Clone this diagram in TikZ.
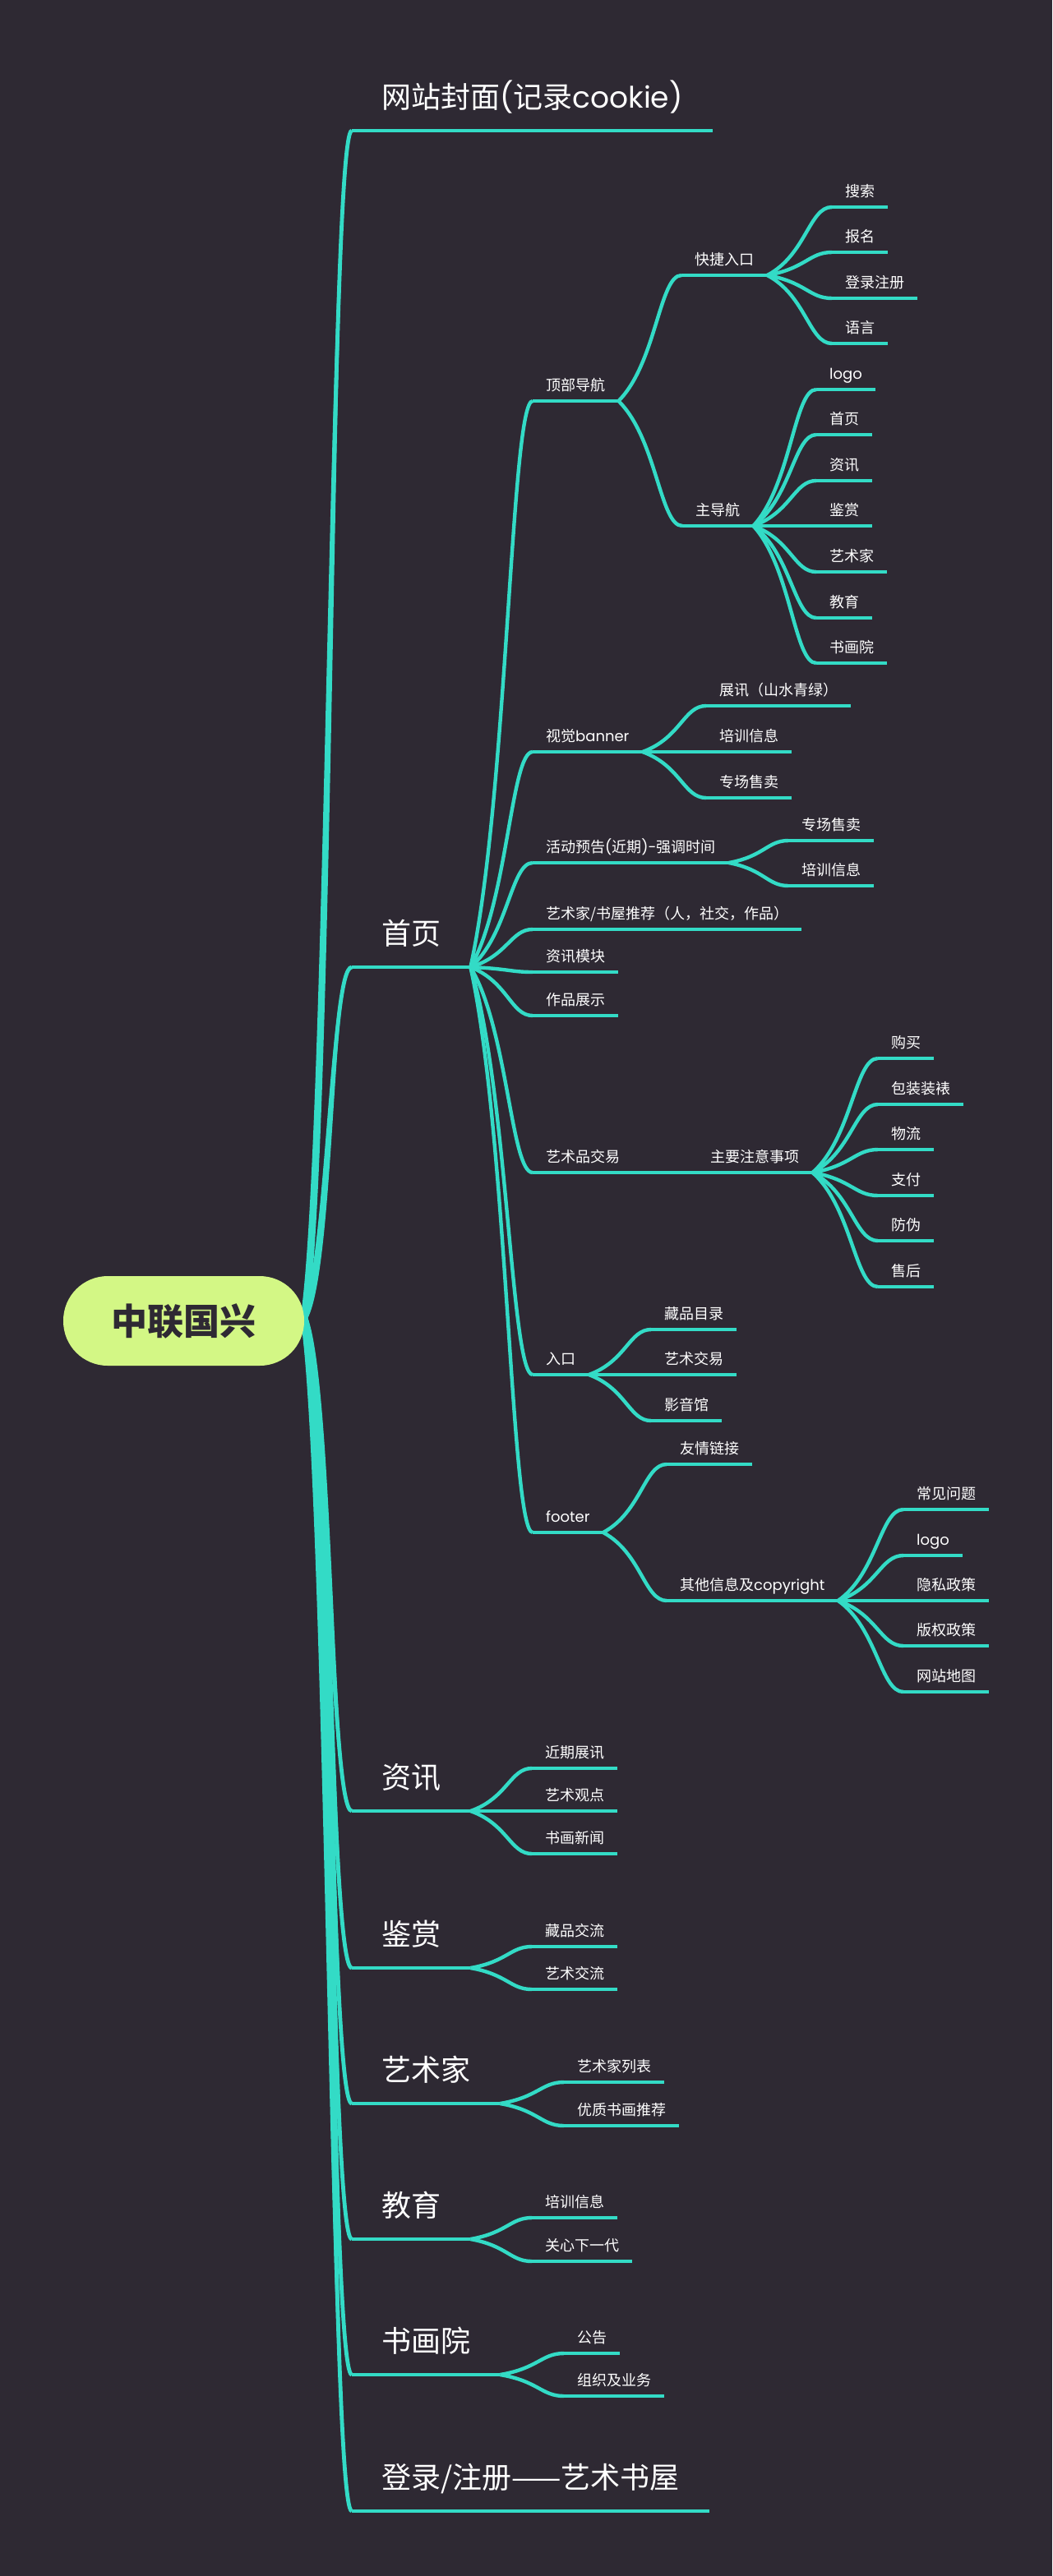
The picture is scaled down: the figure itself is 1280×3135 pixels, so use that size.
\documentclass[tikz,border=0pt]{standalone}
\usepackage{fontspec}
\setmainfont{Noto Sans CJK SC}
\newfontfamily\lat{Poppins}
\usetikzlibrary{calc}
\definecolor{bgc}{HTML}{2E2933}
\definecolor{tq}{HTML}{33DBC6}
\definecolor{lime}{HTML}{D3F785}
\newcommand\mmnode[4]{%
  \node[lab] (#1) at (#2-16,#3-13) {#4};
  \coordinate (#1-l) at (#2-16,#3);
  \coordinate (#1-r) at (#1.east |- #1-l);
  \draw[uline] (#1-l) -- (#1-r);}
\newcommand\mmbig[3]{%
  \node[labA] (#1) at (428,#2-28) {#3};
  \coordinate (#1-l) at (428,#2);
  \coordinate (#1-r) at (#1.east |- #1-l);
  \draw[ulineA] (#1-l) -- (#1-r);}
\newcommand\mmconn[2]{%
  \draw[connl] let \p1=(#1), \p2=(#2) in (\p1) .. controls ({\x1+0.6*(\x2-\x1)},{\y1+0.3*(\y2-\y1)}) and ({\x2-0.35*(\x2-\x1)},\y2) .. (\p2);}
\newcommand\mmtrunk[2]{%
  \draw[trunkl] let \p1=(#1), \p2=(#2) in (\p1) .. controls ({\x1+0.55*(\x2-\x1)},{\y1+0.15*(\y2-\y1)}) and ({\x2-0.45*(\x2-\x1)},\y2) .. (\p2);
  \fill[tq] let \p1=(#1), \p2=(#2) in
  ({\x1-4.5pt},\y1) .. controls ({\x1+0.55*(\x2-\x1)-4.5pt},{\y1+0.15*(\y2-\y1)}) and ({\x2-0.45*(\x2-\x1)-3pt},\y2) .. (\p2)
  .. controls ({\x2-0.45*(\x2-\x1)+3pt},\y2) and ({\x1+0.55*(\x2-\x1)+4.5pt},{\y1+0.15*(\y2-\y1)}) .. ({\x1+4.5pt},\y1) -- cycle;}
\begin{document}
\begin{tikzpicture}[x=1pt,y=-1pt,
  lab/.style={text=white,font=\fontsize{18}{22}\selectfont,inner xsep=16pt,inner ysep=0pt,anchor=base west},
  labA/.style={text=white,font=\fontsize{36}{42}\selectfont,inner xsep=36pt,inner ysep=0pt,anchor=base west},
  uline/.style={tq,line width=4.2pt},
  ulineA/.style={tq,line width=4.8pt},
  connl/.style={tq,line width=4.4pt},
  trunkl/.style={tq,line width=4.8pt}]
\fill[bgc] (0,0) rectangle (1280,3135);
\useasboundingbox (0,0) rectangle (1280,3135);
\coordinate (rc) at (370,1604);
% level 1
\mmbig{a1}{159}{网站封面{\lat(}记录{\lat cookie)}}
\mmbig{a2}{1177}{首页}
\mmbig{a3}{2204}{资讯}
\mmbig{a4}{2395}{鉴赏}
\mmbig{a5}{2560}{艺术家}
\mmbig{a6}{2725}{教育}
\mmbig{a7}{2890}{书画院}
\mmbig{a8}{3056}{登录/注册——艺术书屋}
% level 2 under 首页
\mmnode{b1}{664}{488}{顶部导航}
\mmnode{b2}{664}{915}{视觉{\lat banner}}
\mmnode{b3}{664}{1050}{活动预告{\lat(}近期{\lat)-}强调时间}
\mmnode{b4}{664}{1131}{艺术家/书屋推荐（人，社交，作品）}
\mmnode{b5}{664}{1183}{资讯模块}
\mmnode{b6}{664}{1236}{作品展示}
\mmnode{b7}{664}{1427}{艺术品交易}
\mmnode{b8}{664}{1673}{入口}
\mmnode{b9}{664}{1865}{{\lat footer}}
% 顶部导航
\mmnode{c1}{845}{335}{快捷入口}
\mmnode{c2}{846}{640}{主导航}
\mmnode{d1}{1028}{252}{搜索}
\mmnode{d2}{1028}{307}{报名}
\mmnode{d3}{1028}{363}{登录注册}
\mmnode{d4}{1028}{418}{语言}
\mmnode{e1}{1009}{474}{{\lat logo}}
\mmnode{e2}{1009}{529}{首页}
\mmnode{e3}{1009}{585}{资讯}
\mmnode{e4}{1009}{640}{鉴赏}
\mmnode{e5}{1009}{696}{艺术家}
\mmnode{e6}{1009}{752}{教育}
\mmnode{e7}{1009}{807}{书画院}
% 视觉banner
\mmnode{f1}{875}{859}{展讯（山水青绿）}
\mmnode{f2}{875}{915}{培训信息}
\mmnode{f3}{875}{971}{专场售卖}
% 活动预告
\mmnode{g1}{975}{1023}{专场售卖}
\mmnode{g2}{975}{1078}{培训信息}
% 艺术品交易
\mmnode{h0}{864}{1427}{主要注意事项}
\mmnode{h1}{1084}{1288}{购买}
\mmnode{h2}{1084}{1344}{包装装裱}
\mmnode{h3}{1084}{1399}{物流}
\mmnode{h4}{1084}{1455}{支付}
\mmnode{h5}{1084}{1510}{防伪}
\mmnode{h6}{1084}{1566}{售后}
% 入口
\mmnode{i1}{808}{1618}{藏品目录}
\mmnode{i2}{808}{1673}{艺术交易}
\mmnode{i3}{808}{1729}{影音馆}
% footer
\mmnode{j1}{827}{1782}{友情链接}
\mmnode{j2}{827}{1948}{其他信息及{\lat copyright}}
\mmnode{k1}{1115}{1837}{常见问题}
\mmnode{k2}{1115}{1893}{{\lat logo}}
\mmnode{k3}{1115}{1948}{隐私政策}
\mmnode{k4}{1115}{2003}{版权政策}
\mmnode{k5}{1115}{2059}{网站地图}
% 资讯
\mmnode{l1}{663}{2152}{近期展讯}
\mmnode{l2}{663}{2204}{艺术观点}
\mmnode{l3}{663}{2256}{书画新闻}
% 鉴赏
\mmnode{m1}{663}{2369}{藏品交流}
\mmnode{m2}{663}{2421}{艺术交流}
% 艺术家
\mmnode{n1}{702}{2534}{艺术家列表}
\mmnode{n2}{702}{2587}{优质书画推荐}
% 教育
\mmnode{o1}{663}{2699}{培训信息}
\mmnode{o2}{663}{2752}{关心下一代}
% 书画院
\mmnode{p1}{702}{2864}{公告}
\mmnode{p2}{702}{2916}{组织及业务}
% connectors level 2+
\foreach \c in {b1,b2,b3,b4,b5,b6,b7,b8,b9} {\mmconn{a2-r}{\c-l}}
\foreach \c in {c1,c2} {\mmconn{b1-r}{\c-l}}
\foreach \c in {d1,d2,d3,d4} {\mmconn{c1-r}{\c-l}}
\foreach \c in {e1,e2,e3,e4,e5,e6,e7} {\mmconn{c2-r}{\c-l}}
\foreach \c in {f1,f2,f3} {\mmconn{b2-r}{\c-l}}
\foreach \c in {g1,g2} {\mmconn{b3-r}{\c-l}}
\mmconn{b7-r}{h0-l}
\foreach \c in {h1,h2,h3,h4,h5,h6} {\mmconn{h0-r}{\c-l}}
\foreach \c in {i1,i2,i3} {\mmconn{b8-r}{\c-l}}
\foreach \c in {j1,j2} {\mmconn{b9-r}{\c-l}}
\foreach \c in {k1,k2,k3,k4,k5} {\mmconn{j2-r}{\c-l}}
\foreach \c in {l1,l2,l3} {\mmconn{a3-r}{\c-l}}
\foreach \c in {m1,m2} {\mmconn{a4-r}{\c-l}}
\foreach \c in {n1,n2} {\mmconn{a5-r}{\c-l}}
\foreach \c in {o1,o2} {\mmconn{a6-r}{\c-l}}
\foreach \c in {p1,p2} {\mmconn{a7-r}{\c-l}}
% trunk
\foreach \c in {a1,a2,a3,a4,a5,a6,a7,a8} {\mmtrunk{rc}{\c-l}}
% root
\node[fill=lime,rounded corners=54pt,minimum width=293pt,minimum height=109pt,inner sep=0pt,text=bgc,font=\fontsize{44}{50}\selectfont\bfseries] (root) at (223.5,1607.5) {中联国兴};
\end{tikzpicture}
\end{document}
